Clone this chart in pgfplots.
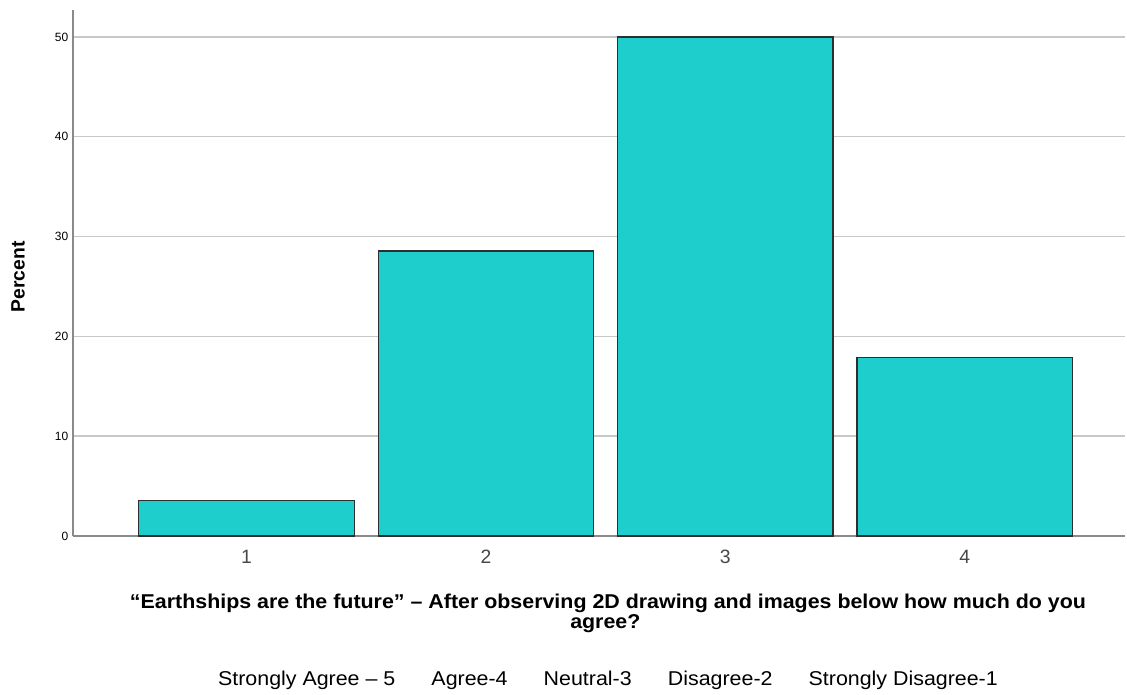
\documentclass[border=0pt]{standalone}
\usepackage{graphicx}
\usepackage{pgfplots}
\pgfplotsset{compat=1.18}
\usepackage{fontspec}
\setmainfont{Liberation Sans}
\definecolor{barfill}{HTML}{1ECECC}
\definecolor{baredge}{HTML}{2E2E2E}
\definecolor{gridc}{HTML}{C8C8C8}
\definecolor{axisc}{HTML}{8A8A8A}
\begin{document}
\begin{tikzpicture}[x=1pt,y=1pt]
\path[use as bounding box] (0,0) rectangle (845.25,520.5);
\begin{axis}[
  at={(54.75pt,118.5pt)},
  scale only axis, width=789pt, height=394.5pt,
  anchor=south west,
  xmin=0.275, xmax=4.67, ymin=0, ymax=52.7,
  axis x line*=bottom, axis y line*=left,
  axis line style={axisc, line width=1pt},
  xtick={1,2,3,4}, ytick={0,10,20,30,40,50},
  major tick length=0pt,
  ymajorgrids, grid style={gridc, line width=1.1pt},
  tick label style={font=\fontsize{9}{10}\selectfont, text=black},
  xticklabel style={font=\fontsize{14.5}{16}\selectfont, text=black!72, yshift=-7pt},
  /pgf/number format/assume math mode=true,
  every axis y label/.style={at={(rel axis cs:0,0.5)}, rotate=90, anchor=center, yshift=41.25pt, xshift=-3pt, font=\bfseries\fontsize{14.5}{16}\selectfont},
  ylabel={Percent},
  ybar, bar width=0.9, bar shift=0pt,
]
\addplot[fill=barfill, draw=baredge, line width=1pt] coordinates {(1,3.57) (2,28.57) (3,50) (4,17.86)};
\end{axis}
\node[font=\bfseries\fontsize{15}{15}\selectfont, anchor=base, inner sep=0pt] at (456,64) {\scalebox{1.07}[1]{“Earthships are the future” – After observing 2D drawing and images below how much do you}};
\node[font=\bfseries\fontsize{15}{15}\selectfont, anchor=base, inner sep=0pt] at (454,49.5) {\scalebox{1.07}[1]{agree?}};
\node[font=\fontsize{15}{15}\selectfont] at (456,10.5) {\scalebox{1.07}[1]{Strongly Agree – 5 \hspace{17pt} Agree-4 \hspace{17pt} Neutral-3 \hspace{17pt} Disagree-2 \hspace{17pt} Strongly Disagree-1}};
\end{tikzpicture}
\end{document}
